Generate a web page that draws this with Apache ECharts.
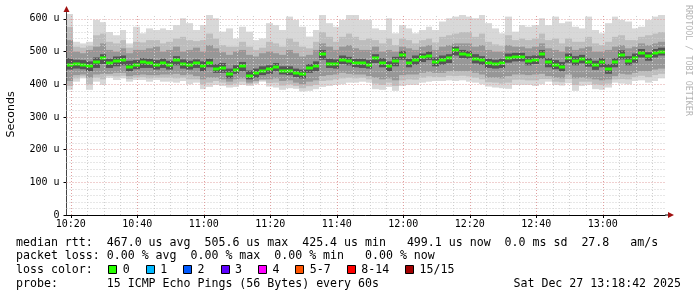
<!DOCTYPE html>
<html><head><meta charset="utf-8">
<script src="https://cdn.jsdelivr.net/npm/echarts@6/dist/echarts.min.js"></script>
<style>html,body{margin:0;padding:0;background:#fff}#c{width:697px;height:297px}</style>
</head><body><div id="c"></div>
<script>
// ---- data (minutes since midnight, values in microseconds) ----
const startMinute = 618.7;   // 10:18:42
const endMinute = 798.7;     // 13:18:42
const stepMinutes = 2;
const xTickLabels = ['10:20','10:40','11:00','11:20','11:40','12:00','12:20','12:40','13:00'];
const yTickLabels = ['0','100 u','200 u','300 u','400 u','500 u','600 u'];
const yTickValues = [0,100,200,300,400,500,600];

const median = [460,462,460,455,468,480,466,472,475,452,460,468,465,458,466,
 458,474,462,458,464,455,466,448,450,430,445,455,425,433,440,
 446,452,442,442,434,430,449,455,492,462,462,475,470,465,464,
 460,480,466,455,470,490,465,474,482,488,469,474,479,505,492,
 490,478,474,464,461,464,480,483,483,472,475,492,467,460,454,
 480,472,478,467,458,467,447,467,490,472,480,495,485,495,499];
const pingMax = [615,530,525,530,597,590,560,550,566,525,576,556,571,566,571,
 566,581,602,587,566,581,612,602,561,571,540,576,561,535,540,
 587,581,566,607,597,576,546,566,612,587,576,597,612,612,597,
 597,571,566,602,556,581,571,556,566,576,566,592,602,607,612,
 607,602,612,587,571,556,607,561,581,576,581,602,581,607,587,
 592,576,571,607,566,556,587,607,597,592,571,576,597,607,612];
const pingMin = [383,408,418,383,408,398,420,413,418,408,413,413,408,413,408,
 408,405,410,400,405,385,392,398,395,390,392,398,395,400,408,
 393,390,383,388,386,378,380,385,392,395,398,400,405,405,408,
 405,385,383,392,380,395,398,398,405,408,410,410,412,410,412,
 408,405,400,393,390,388,386,398,398,398,395,400,408,398,396,
 403,380,395,398,385,383,390,405,402,400,410,412,405,410,418];
const band2High = [575,515,512,518,550,555,530,525,535,512,530,528,535,535,525,
 530,540,545,535,532,535,555,540,520,515,515,530,515,505,512,
 530,525,515,540,530,515,510,530,560,545,530,545,555,545,535,
 540,535,525,540,520,540,535,525,535,540,528,545,550,555,560,
 560,545,555,530,522,518,550,535,540,535,540,555,535,540,525,
 540,530,530,545,525,520,530,545,550,535,535,545,550,555,560];
const band2Low = [395,418,424,400,420,415,426,424,426,416,420,422,418,420,420,
 420,418,420,415,415,400,405,410,405,398,402,408,400,405,412,
 404,405,396,400,395,388,394,398,410,412,415,418,420,418,420,
 415,402,398,405,395,412,415,414,420,424,422,422,426,425,426,
 424,420,415,406,405,402,405,414,414,412,412,416,416,408,406,
 416,398,408,408,400,398,402,415,416,415,422,426,422,428,432];
const midHigh = [535,500,495,505,515,525,505,500,510,495,505,505,510,515,500,
 505,515,500,505,512,500,520,510,498,490,500,505,490,485,495,
 500,495,490,505,495,485,490,505,525,515,505,515,520,510,505,
 505,515,500,505,500,515,510,505,515,520,505,515,520,525,525,
 525,515,520,505,500,500,520,515,515,510,515,525,510,505,500,
 515,505,510,515,500,500,505,515,520,510,515,525,520,525,530];
const midLow = [410,428,430,420,430,432,432,435,435,425,428,430,428,428,430,
 430,432,428,430,425,415,420,420,415,408,415,418,405,410,415,
 415,418,410,412,405,400,408,412,425,428,430,435,432,430,430,
 425,420,415,418,412,428,430,430,435,438,435,435,440,440,440,
 440,435,430,420,420,418,425,430,430,428,430,432,425,420,418,
 430,418,420,418,415,412,415,425,432,430,435,440,440,445,448];
const innerHigh = [480,475,474,470,482,492,478,485,488,472,474,480,478,474,478,
 472,486,476,472,476,470,478,462,465,448,458,468,442,448,455,
 458,465,455,455,448,445,462,470,505,478,476,488,484,478,478,
 474,492,480,470,484,502,478,488,494,500,482,488,492,515,505,
 502,492,486,478,475,478,494,496,496,486,488,505,480,474,468,
 494,486,490,480,472,480,462,480,504,486,494,508,498,508,512];
const innerLow = [445,448,446,440,450,462,450,455,458,440,446,450,450,445,450,
 445,458,448,445,450,440,452,435,435,418,432,440,415,420,428,
 432,440,430,428,422,418,435,440,475,450,448,462,458,452,450,
 448,465,452,440,455,475,452,460,468,474,455,460,465,488,480,
 478,464,460,450,448,450,466,470,470,458,462,478,452,446,440,
 466,458,464,454,444,452,432,452,476,458,466,482,472,482,488];

const lossLabels = ['0','1','2','3','4','5-7','8-14','15/15'];
const lossColors = ['#26ff00','#00b8ff','#0059ff','#5e00ff','#ff00ff','#ff5500','#ff0000','#a10000'];
const statLines = [
  'median rtt:  467.0 us avg  505.6 us max  425.4 us min   499.1 us now  0.0 ms sd  27.8   am/s',
  'packet loss: 0.00 % avg  0.00 % max  0.00 % min   0.00 % now',
  'loss color:',
  'probe:       15 ICMP Echo Pings (56 Bytes) every 60s'
];
const dateStamp = 'Sat Dec 27 13:18:42 2025';
const sideText = 'RRDTOOL / TOBI OETIKER';

// ---- build ----
function toMin(s){const p=s.split(':');return +p[0]*60 + +p[1];}
const xTickValues = xTickLabels.map(toMin);
const rows = median.map((m,i)=>{
  const t0 = startMinute + i*stepMinutes;
  return [t0, Math.min(t0+stepMinutes,endMinute), pingMin[i], pingMax[i], band2Low[i], band2High[i],
          midLow[i], midHigh[i], innerLow[i], innerHigh[i], m];
});

const MONO = 'DejaVu Sans Mono';
const smokeColors = ['#d8d8d8','#bdbdbd','#979797','#555555'];
function smokeItem(params, api){
  const x0 = Math.round(api.coord([api.value(0),0])[0]);
  const x1 = Math.round(api.coord([api.value(1),0])[0]);
  const children = [];
  for (let k=0;k<4;k++){
    const yl = api.coord([0,api.value(2+2*k)])[1], yh = api.coord([0,api.value(3+2*k)])[1];
    children.push({type:'rect', shape:{x:x0,y:yh,width:x1-x0,height:yl-yh}, style:{fill:smokeColors[k]}});
  }
  return {type:'group', children};
}
function medianItem(params, api){
  const x0 = Math.round(api.coord([api.value(0),0])[0]);
  const x1 = Math.round(api.coord([api.value(1),0])[0]);
  const y = api.coord([0,api.value(10)])[1];
  return {type:'rect', shape:{x:x0,y:Math.round(y)-1.5,width:x1-x0,height:3}, style:{fill:'#26ff00'}};
}

const minorGrid = '#cfcfcf', majorGrid = '#e0a0a0';
const gridLines = [];
for (let v=20; v<=600; v+=20) gridLines.push({yAxis:v, lineStyle:{color: v%100===0?majorGrid:minorGrid}});
for (let m=620; m<endMinute; m+=5) gridLines.push({xAxis:m, lineStyle:{color: xTickValues.includes(m)?majorGrid:minorGrid}});

const chart = echarts.init(document.getElementById('c'), null, {renderer:'canvas'});
chart.setOption({
  animation:false,
  backgroundColor:'#ffffff',
  grid:{left:66.5, top:14, width:598.5, height:201, containLabel:false, outerBoundsMode:'none'},
  xAxis:{type:'value', min:startMinute, max:endMinute,
    splitLine:{show:false},
    axisLine:{lineStyle:{color:'#000',width:1}},
    axisTick:{customValues:xTickValues, length:3, lineStyle:{color:'#000'}},
    axisLabel:{customValues:xTickValues, formatter:v=>xTickLabels[xTickValues.indexOf(v)]||'',
      fontFamily:MONO, fontSize:10, color:'#000', margin:4}},
  yAxis:{type:'value', min:0, max:615,
    name:'Seconds', nameLocation:'middle', nameGap:50,
    nameTextStyle:{fontFamily:'DejaVu Sans', fontSize:11, color:'#000'},
    splitLine:{show:false},
    axisLine:{show:true, lineStyle:{color:'#444',width:1}},
    axisTick:{show:true, customValues:yTickValues, length:3, lineStyle:{color:'#000'}},
    axisLabel:{customValues:yTickValues, formatter:v=>yTickLabels[yTickValues.indexOf(v)]||'',
      fontFamily:MONO, fontSize:10, color:'#000', margin:7}},
  series:[
    {type:'custom', renderItem:smokeItem, data:rows, encode:{x:[0,1], y:[2,3]}, clip:true, z:2, silent:true},
    {type:'line', data:[], z:3, silent:true,
      markLine:{silent:true, symbol:'none', label:{show:false}, animation:false,
        lineStyle:{type:[1,2], width:1}, data:gridLines}},
    {type:'custom', renderItem:medianItem, data:rows, encode:{x:[0,1], y:10}, clip:true, z:4, silent:true}
  ]
});

// decorations: arrows, texts, legend
const o = chart.convertToPixel({gridIndex:0},[startMinute,0]);
const tr = chart.convertToPixel({gridIndex:0},[endMinute,615]);
const gfx = [];
gfx.push({type:'polygon', shape:{points:[[o[0]-3,tr[1]-2],[o[0]+3,tr[1]-2],[o[0],tr[1]-8]]}, style:{fill:'#a01010'}});
gfx.push({type:'line', shape:{x1:o[0],y1:tr[1],x2:o[0],y2:tr[1]-2}, style:{stroke:'#444'}});
gfx.push({type:'line', shape:{x1:tr[0],y1:o[1],x2:tr[0]+3,y2:o[1]}, style:{stroke:'#000'}});
gfx.push({type:'polygon', shape:{points:[[tr[0]+3,o[1]-3],[tr[0]+3,o[1]+3],[tr[0]+9,o[1]]]}, style:{fill:'#a01010'}});
const baseX = 16, lineTop = [236.5, 250.3, 264.1, 277.9];
const FONT = '11.6px "'+MONO+'"';
statLines.forEach((s,i)=>gfx.push({type:'text', x:baseX, y:lineTop[i],
  style:{text:s, font:FONT, fill:'#000', verticalAlign:'top', align:'left'}}));
gfx.push({type:'text', x:681, y:lineTop[3], style:{text:dateStamp, font:FONT, fill:'#000', verticalAlign:'top', align:'right'}});
let lx = 108.3;
lossLabels.forEach((lab,i)=>{
  gfx.push({type:'rect', shape:{x:Math.round(lx)+0.5, y:265.5, width:8, height:8}, style:{fill:lossColors[i], stroke:'#000', lineWidth:1}});
  gfx.push({type:'text', x:lx+14.5, y:lineTop[2], style:{text:lab, font:FONT, fill:'#000', verticalAlign:'top', align:'left'}});
  lx += 37.4 + 7*(lab.length-1);
});
gfx.push({type:'text', x:692, y:5, rotation:-Math.PI/2,
  style:{text:sideText, font:'8.4px "'+MONO+'"', fill:'#b4b4b4', align:'left', verticalAlign:'top'}});
chart.setOption({graphic:gfx});
</script></body></html>
